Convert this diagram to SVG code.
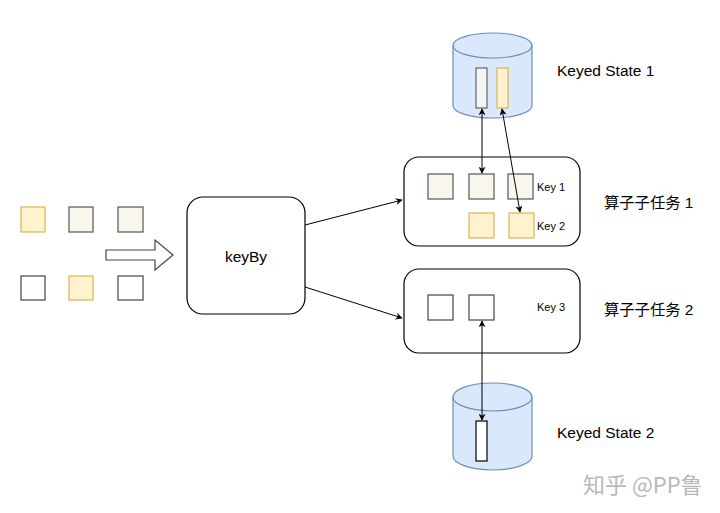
<svg xmlns="http://www.w3.org/2000/svg" width="720" height="513" viewBox="0 0 720 513">
<defs>
<marker id="ah" viewBox="0 0 10 10" refX="9" refY="5" markerWidth="7" markerHeight="7" orient="auto-start-reverse" markerUnits="userSpaceOnUse">
<path d="M0,0 L10,5 L0,10 L3,5 Z" fill="#000"/>
</marker>
<style>
.t{font-family:"Liberation Sans",Arial,sans-serif;fill:#000}
.cjk{font-family:"Liberation Sans","Noto Sans CJK SC",sans-serif;fill:#000}
.box{fill:#fff;stroke:#000;stroke-width:1.2}
.g{fill:#f9f7ed;stroke:#555;stroke-width:1.2}
.y{fill:#fff2cc;stroke:#d6b656;stroke-width:1.2}
.w{fill:#fff;stroke:#444;stroke-width:1.2}
.cyl{fill:#dae8fc;stroke:#6c8ebf;stroke-width:1.2}
.c{fill:none;stroke:#000;stroke-width:1}
</style>
</defs>
<rect width="720" height="513" fill="#fff"/>

<g id="input">
<rect class="y" x="21" y="207" width="24" height="25"/>
<rect class="g" x="69" y="207" width="24" height="25"/>
<rect class="g" x="118" y="207" width="25" height="25"/>
<rect class="w" x="21" y="276" width="24" height="24"/>
<rect class="y" x="69" y="276" width="24" height="24"/>
<rect class="w" x="118" y="276" width="25" height="24"/>
</g>

<g id="blockArrow">
<path d="M106,250 L155,250 L155,240 L173,255 L155,270 L155,260 L106,260 Z" fill="#fff" stroke="#444" stroke-width="1.2"/>
</g>

<g id="keyBy">
<rect class="box" x="187" y="197" width="118" height="117" rx="16"/>
<text class="t" x="246" y="262" font-size="15.5" text-anchor="middle">keyBy</text>
</g>

<g id="subtask1">
<rect class="box" x="404" y="157" width="176" height="89" rx="15"/>
<rect class="g" x="428" y="174" width="25" height="25"/>
<rect class="g" x="469" y="174" width="25" height="25"/>
<rect class="g" x="508" y="174" width="25" height="25"/>
<rect class="y" x="469" y="213" width="25" height="25"/>
<rect class="y" x="509" y="213" width="25" height="25"/>
<text class="t" x="537" y="191" font-size="11">Key 1</text>
<text class="t" x="537" y="230" font-size="11">Key 2</text>
</g>

<g id="subtask2">
<rect class="box" x="404" y="269" width="176" height="84" rx="15"/>
<rect class="w" x="428" y="295" width="25" height="25"/>
<rect class="w" x="469" y="295" width="25" height="25"/>
<text class="t" x="537" y="311" font-size="11">Key 3</text>
</g>

<g id="state1">
<path class="cyl" d="M453,45.5 L453,105.5 A39.5,12.5 0 0 0 532,105.5 L532,45.5 A39.5,12.5 0 0 0 453,45.5 Z"/>
<path d="M453,45.5 A39.5,12.5 0 0 0 532,45.5" fill="none" stroke="#6c8ebf" stroke-width="1.2"/>
<rect x="476" y="68" width="11" height="40" fill="#f5f5f5" stroke="#666" stroke-width="1.2"/>
<rect x="497" y="68" width="11" height="40" fill="#fff2cc" stroke="#d6b656" stroke-width="1.2"/>
</g>

<g id="state2">
<path class="cyl" d="M453,397 L453,456 A39.5,14 0 0 0 532,456 L532,397 A39.5,14 0 0 0 453,397 Z"/>
<path d="M453,397 A39.5,14 0 0 0 532,397" fill="none" stroke="#6c8ebf" stroke-width="1.2"/>
<rect x="476" y="421" width="11" height="40" fill="#fff" stroke="#000" stroke-width="1.2"/>
</g>

<g id="labels">
<text class="t" x="557" y="76" font-size="15.5">Keyed State 1</text>
<text class="t" x="557" y="438" font-size="15.5">Keyed State 2</text>
<text class="cjk" x="604" y="208" font-size="15.3">算子子任务 1</text>
<text class="cjk" x="604" y="315" font-size="15.3">算子子任务 2</text>
<text x="583" y="493" font-size="22" fill="#b8b8b8" font-family="'Noto Sans CJK SC',sans-serif">知乎 @PP鲁</text>
</g>

<g id="connectors">
<line class="c" x1="305" y1="225" x2="402" y2="200" marker-end="url(#ah)"/>
<line class="c" x1="305" y1="287" x2="402" y2="318" marker-end="url(#ah)"/>
<line class="c" x1="482" y1="109" x2="482" y2="173" marker-start="url(#ah)" marker-end="url(#ah)"/>
<line class="c" x1="502" y1="109" x2="520" y2="212" marker-start="url(#ah)" marker-end="url(#ah)"/>
<line class="c" x1="482" y1="321" x2="482" y2="420" marker-start="url(#ah)" marker-end="url(#ah)"/>
</g>
</svg>
